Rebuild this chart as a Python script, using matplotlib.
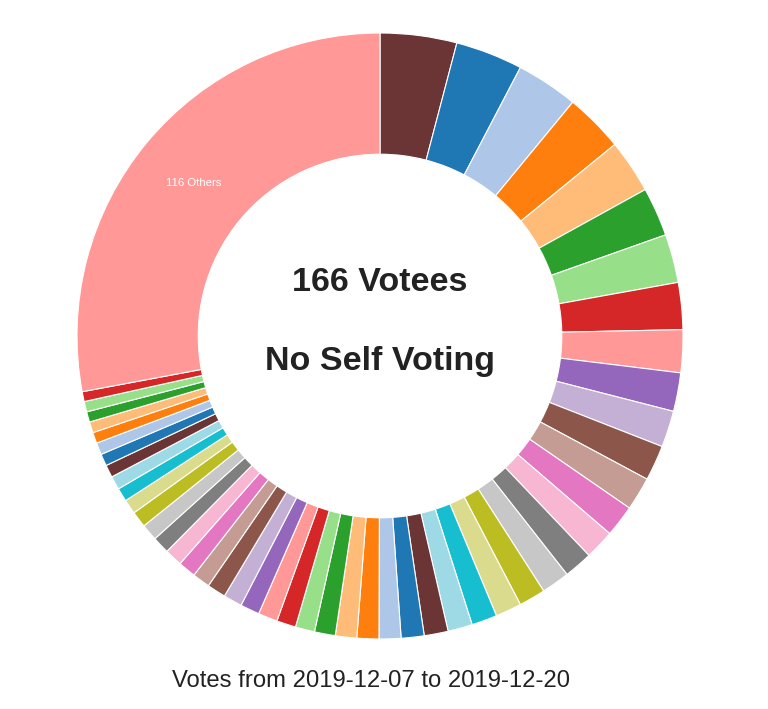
import matplotlib
matplotlib.use("Agg")
import matplotlib.pyplot as plt
import numpy as np

plt.rcParams['font.family'] = ['Liberation Sans', 'DejaVu Sans']

# Share of each slice (read as degrees of the ring), clockwise from 12 o'clock
labels = [f"Votee {i}" for i in range(1, 51)] + ["116 Others"]
values = [14.7, 12.9, 11.9, 11.3, 10.3, 9.4, 9.3, 9.0, 8.2, 7.4,
          7.0, 6.8, 6.4, 6.1, 5.7, 5.5, 5.4, 5.1, 5.0, 4.9,
          4.7, 4.6, 4.4, 4.2, 4.2, 4.1, 4.0, 3.7, 3.7, 3.7,
          3.7, 3.6, 3.6, 3.4, 3.4, 3.4, 3.3, 3.2, 3.1, 2.8,
          2.6, 2.6, 2.4, 2.3, 2.3, 2.1, 2.1, 2.0, 2.0, 1.9,
          100.6]
palette = ["#6b3535", "#1f77b4", "#aec7e8", "#ff7f0e", "#ffbb78", "#2ca02c",
           "#98df8a", "#d62728", "#ff9896", "#9467bd", "#c5b0d5", "#8c564b",
           "#c49c94", "#e377c2", "#f7b6d2", "#7f7f7f", "#c7c7c7", "#bcbd22",
           "#dbdb8d", "#17becf", "#9edae5"]
title_lines = ["166 Votees", "No Self Voting"]
footer = "Votes from 2019-12-07 to 2019-12-20"

colors = [palette[i % len(palette)] for i in range(len(values))]

W, H = 768, 709
fig = plt.figure(figsize=(W / 100, H / 100), dpi=100)
cx, cy, R = 380, 336, 303
ax = fig.add_axes([(cx - R) / W, (H - cy - R) / H, 2 * R / W, 2 * R / H])

wedges, _ = ax.pie(values, colors=colors, startangle=90, counterclock=False,
                   radius=1.0,
                   wedgeprops=dict(width=0.4, edgecolor='white', linewidth=0.8))
ax.set_xlim(-1, 1)
ax.set_ylim(-1, 1)
ax.set_aspect('equal')
ax.axis('off')

# label only the "Others" slice, at mid-ring
w = wedges[-1]
mid = np.deg2rad((w.theta1 + w.theta2) / 2)
rr = 0.8
ax.text(rr * np.cos(mid), rr * np.sin(mid) - 0.005, labels[-1], ha='center',
        va='center', color='white', fontsize=8.2)

ax.text(0, 0.178, title_lines[0], ha='center', va='center', fontsize=24.5,
        fontweight='bold', color='#222222')
ax.text(0, -0.083, title_lines[1], ha='center', va='center', fontsize=24.5,
        fontweight='bold', color='#222222')

fig.text(371.5 / W, 1 - 681 / H, footer, ha='center', va='center', fontsize=17.2,
         color='#222222')

fig.savefig("out.png", dpi=100, facecolor='white')
